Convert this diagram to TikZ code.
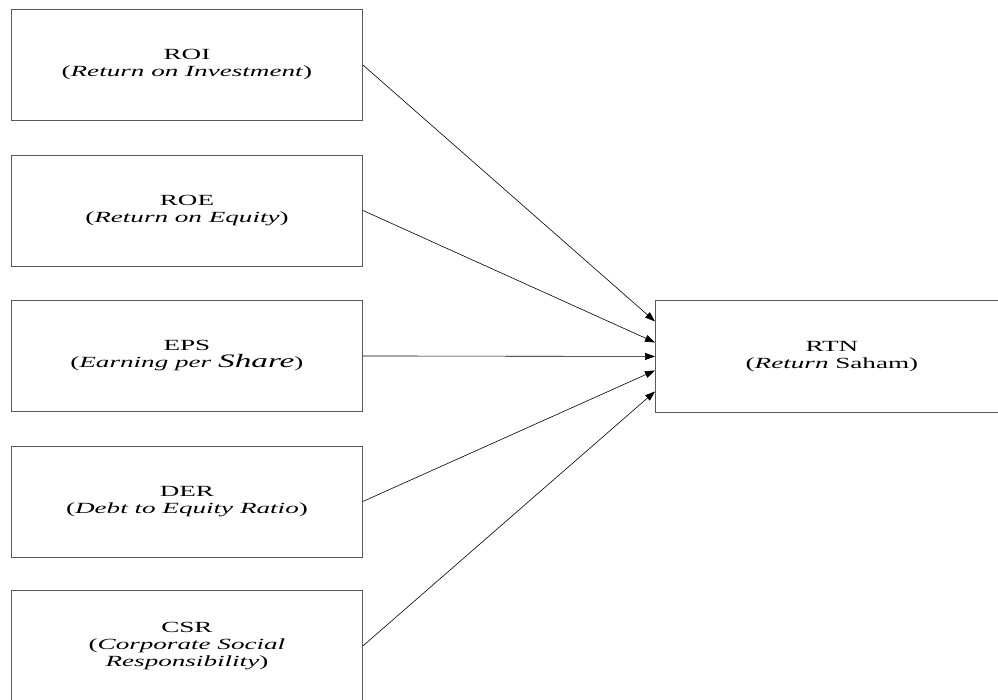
\documentclass[tikz,border=0pt]{standalone}
\usepackage{fontspec}
\setmainfont{Liberation Serif}[FakeStretch=1.75]
\usetikzlibrary{arrows.meta,calc}
\begin{document}
\begin{tikzpicture}[x=1pt,y=-1pt,
  box/.style={draw=black!65, line width=0.9pt, rectangle, minimum width=351pt,
    minimum height=111pt, inner sep=0pt, anchor=north west, align=center,
    font=\fontsize{15.5}{17}\selectfont},
  link/.style={line width=0.6pt, -{Triangle[length=10pt,width=7pt]}}]
\useasboundingbox (0,0) rectangle (998,699);
\clip (0,0) rectangle (998,699);
\node[box] (roi) at (11,9) {ROI\\(\textit{Return on Investment})};
\node[box] (roe) at (11,154.5) {ROE\\(\textit{Return on Equity})};
\node[box] (eps) at (11,300) {EPS\\(\textit{Earning per} {\fontsize{19}{17}\selectfont\textit{Share}})};
\node[box] (der) at (11,445.5) {DER\\(\textit{Debt to Equity Ratio})};
\node[box] (csr) at (11,590) {CSR\\(\textit{Corporate Social}\\\textit{Responsibility})};
\node[box, minimum width=353pt, minimum height=112pt] (rtn) at (655,300) {RTN\\(\textit{Return} Saham)};
\draw[link] (roi.east) -- ($(rtn.west)+(0,-35)$);
\draw[link] (roe.east) -- ($(rtn.west)+(0,-14)$);
\draw[link] (eps.east) -- (rtn.west);
\draw[link] (der.east) -- ($(rtn.west)+(0,14)$);
\draw[link] (csr.east) -- ($(rtn.west)+(0,35)$);
\end{tikzpicture}
\end{document}
